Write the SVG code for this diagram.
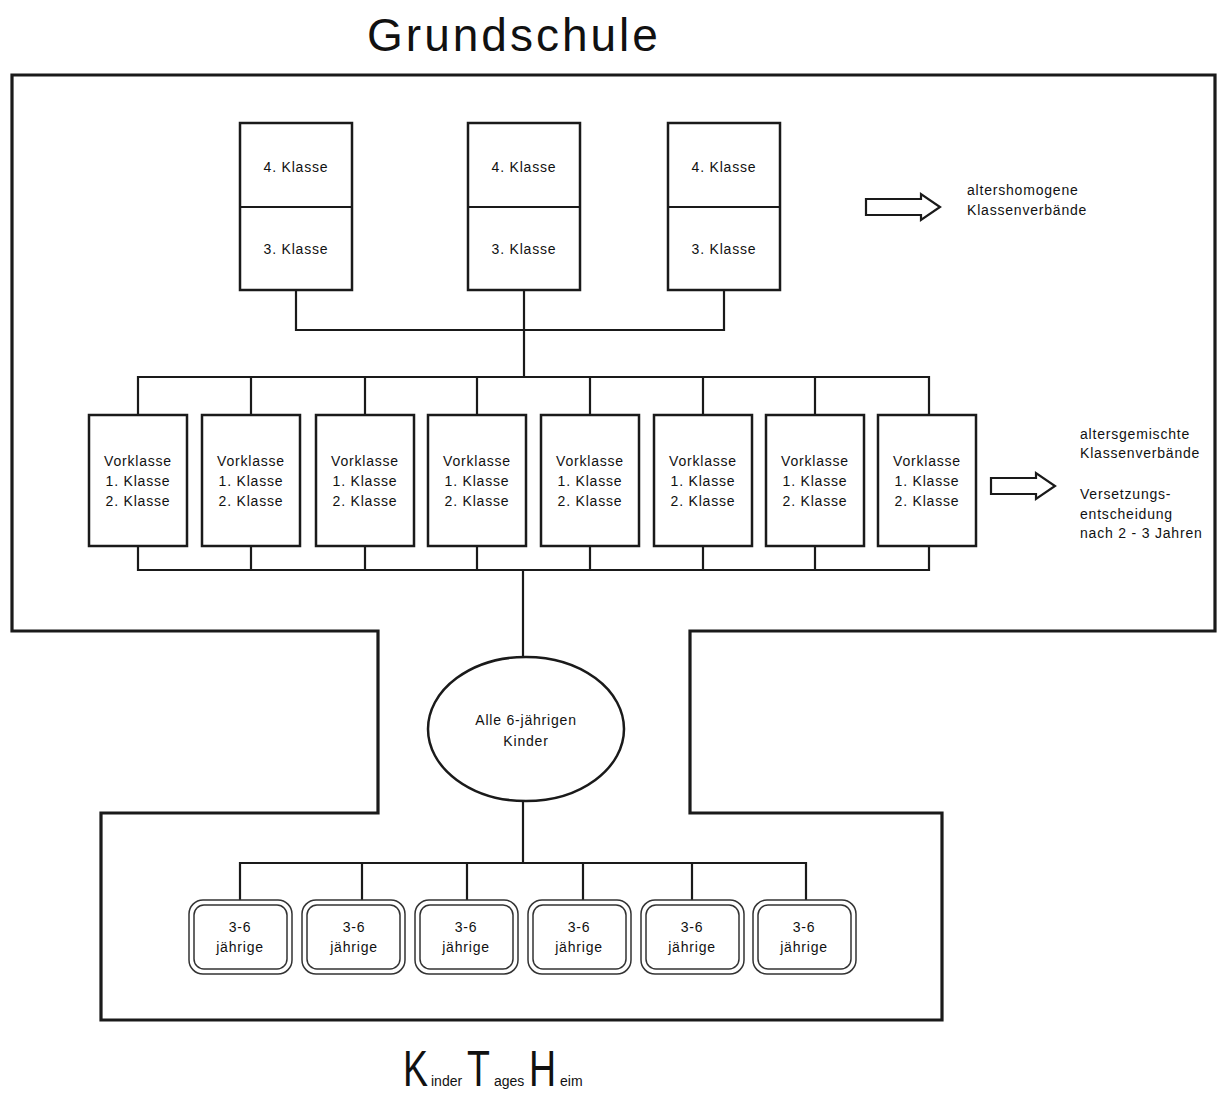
<svg xmlns="http://www.w3.org/2000/svg" width="1217" height="1097" viewBox="0 0 1217 1097">
<style>
  text { font-family: "Liberation Sans", Arial, sans-serif; fill: #111; }
  .t { font-size: 14px; text-anchor: middle; letter-spacing: 0.8px; }
  .side { font-size: 14px; letter-spacing: 0.8px; }
  .box { fill: #fff; stroke: #1a1a1a; stroke-width: 2.5; }
  .frame { fill: none; stroke: #1a1a1a; stroke-width: 3.2; stroke-linejoin: miter; }
  .con { fill: none; stroke: #1a1a1a; stroke-width: 2.2; }
  .rr { fill: #fff; stroke: #333; stroke-width: 1.5; }
  .arrow { fill: #fff; stroke: #1a1a1a; stroke-width: 2.2; stroke-linejoin: miter; }
  .title { font-size: 46px; text-anchor: middle; letter-spacing: 3px; }
  .big { font-size: 50px; }
  .small { font-size: 14px; }
</style>

<!-- Titles -->
<text class="title" x="514" y="51">Grundschule</text>

<!-- Frame -->
<path id="frame" class="frame" d="M12,75 H1215 V631 H690 V813 H942 V1020 H101 V813 H378 V631 H12 Z"/>

<!-- Connectors -->
<g id="connectors" class="con">
  <path d="M296,290 V330 H724 V290"/>
  <path d="M524,290 V377"/>
  <path d="M138,415 V377 H929 V415"/>
  <path d="M251,377 V415 M365,377 V415 M477,377 V415 M590,377 V415 M703,377 V415 M815,377 V415"/>
  <path d="M138,546 V570 H929 V546"/>
  <path d="M251,546 V570 M365,546 V570 M477,546 V570 M590,546 V570 M703,546 V570 M815,546 V570"/>
  <path d="M523,570 V657"/>
  <path d="M523,801 V863"/>
  <path d="M240,900 V863 H806 V900"/>
  <path d="M362,863 V900 M467,863 V900 M583,863 V900 M692,863 V900"/>
</g>

<!-- Top class boxes -->
<g id="top1">
  <rect class="box" x="240" y="123" width="112" height="167"/>
  <line class="con" x1="240" y1="207" x2="352" y2="207"/>
  <text class="t" x="296" y="172">4. Klasse</text>
  <text class="t" x="296" y="254">3. Klasse</text>
</g>
<g id="top2">
  <rect class="box" x="468" y="123" width="112" height="167"/>
  <line class="con" x1="468" y1="207" x2="580" y2="207"/>
  <text class="t" x="524" y="172">4. Klasse</text>
  <text class="t" x="524" y="254">3. Klasse</text>
</g>
<g id="top3">
  <rect class="box" x="668" y="123" width="112" height="167"/>
  <line class="con" x1="668" y1="207" x2="780" y2="207"/>
  <text class="t" x="724" y="172">4. Klasse</text>
  <text class="t" x="724" y="254">3. Klasse</text>
</g>

<!-- Arrow 1 + label -->
<g id="note1">
  <path class="arrow" d="M866,199 H921 V194 L940,207 L921,220 V215 H866 Z"/>
  <text class="side" x="967" y="195">altershomogene</text>
  <text class="side" x="967" y="215">Klassenverbände</text>
</g>

<!-- Vorklasse boxes -->
<g id="v1"><rect class="box" x="89" y="415" width="98" height="131"/>
  <text class="t" x="138" y="466">Vorklasse</text><text class="t" x="138" y="486">1. Klasse</text><text class="t" x="138" y="506">2. Klasse</text></g>
<g id="v2"><rect class="box" x="202" y="415" width="98" height="131"/>
  <text class="t" x="251" y="466">Vorklasse</text><text class="t" x="251" y="486">1. Klasse</text><text class="t" x="251" y="506">2. Klasse</text></g>
<g id="v3"><rect class="box" x="316" y="415" width="98" height="131"/>
  <text class="t" x="365" y="466">Vorklasse</text><text class="t" x="365" y="486">1. Klasse</text><text class="t" x="365" y="506">2. Klasse</text></g>
<g id="v4"><rect class="box" x="428" y="415" width="98" height="131"/>
  <text class="t" x="477" y="466">Vorklasse</text><text class="t" x="477" y="486">1. Klasse</text><text class="t" x="477" y="506">2. Klasse</text></g>
<g id="v5"><rect class="box" x="541" y="415" width="98" height="131"/>
  <text class="t" x="590" y="466">Vorklasse</text><text class="t" x="590" y="486">1. Klasse</text><text class="t" x="590" y="506">2. Klasse</text></g>
<g id="v6"><rect class="box" x="654" y="415" width="98" height="131"/>
  <text class="t" x="703" y="466">Vorklasse</text><text class="t" x="703" y="486">1. Klasse</text><text class="t" x="703" y="506">2. Klasse</text></g>
<g id="v7"><rect class="box" x="766" y="415" width="98" height="131"/>
  <text class="t" x="815" y="466">Vorklasse</text><text class="t" x="815" y="486">1. Klasse</text><text class="t" x="815" y="506">2. Klasse</text></g>
<g id="v8"><rect class="box" x="878" y="415" width="98" height="131"/>
  <text class="t" x="927" y="466">Vorklasse</text><text class="t" x="927" y="486">1. Klasse</text><text class="t" x="927" y="506">2. Klasse</text></g>

<!-- Arrow 2 + label -->
<g id="note2">
  <path class="arrow" d="M991,478 H1036 V473 L1055,486 L1036,499 V494 H991 Z"/>
  <text class="side" x="1080" y="439">altersgemischte</text>
  <text class="side" x="1080" y="458">Klassenverbände</text>
  <text class="side" x="1080" y="499">Versetzungs-</text>
  <text class="side" x="1080" y="519">entscheidung</text>
  <text class="side" x="1080" y="538">nach 2 - 3 Jahren</text>
</g>

<!-- Ellipse -->
<g id="alle">
  <ellipse class="box" cx="526" cy="729" rx="98" ry="72"/>
  <text class="t" x="526" y="725">Alle 6-jährigen</text>
  <text class="t" x="526" y="746">Kinder</text>
</g>

<!-- Kindergarten groups -->
<g id="k1"><rect class="rr" x="189" y="900" width="103" height="74" rx="14"/><rect class="rr" x="194" y="905" width="93" height="64" rx="10"/>
  <text class="t" x="240" y="932">3-6</text><text class="t" x="240" y="952">jährige</text></g>
<g id="k2"><rect class="rr" x="302" y="900" width="103" height="74" rx="14"/><rect class="rr" x="307" y="905" width="93" height="64" rx="10"/>
  <text class="t" x="354" y="932">3-6</text><text class="t" x="354" y="952">jährige</text></g>
<g id="k3"><rect class="rr" x="415" y="900" width="103" height="74" rx="14"/><rect class="rr" x="420" y="905" width="93" height="64" rx="10"/>
  <text class="t" x="466" y="932">3-6</text><text class="t" x="466" y="952">jährige</text></g>
<g id="k4"><rect class="rr" x="528" y="900" width="103" height="74" rx="14"/><rect class="rr" x="533" y="905" width="93" height="64" rx="10"/>
  <text class="t" x="579" y="932">3-6</text><text class="t" x="579" y="952">jährige</text></g>
<g id="k5"><rect class="rr" x="641" y="900" width="103" height="74" rx="14"/><rect class="rr" x="646" y="905" width="93" height="64" rx="10"/>
  <text class="t" x="692" y="932">3-6</text><text class="t" x="692" y="952">jährige</text></g>
<g id="k6"><rect class="rr" x="753" y="900" width="103" height="74" rx="14"/><rect class="rr" x="758" y="905" width="93" height="64" rx="10"/>
  <text class="t" x="804" y="932">3-6</text><text class="t" x="804" y="952">jährige</text></g>

<!-- Bottom title: KinderTagesHeim -->
<g id="kth">
  <text class="big" transform="translate(403,1086) scale(0.75,1)">K</text>
  <text class="small" x="431" y="1086">inder</text>
  <text class="big" transform="translate(467,1086) scale(0.75,1)">T</text>
  <text class="small" x="494" y="1086">ages</text>
  <text class="big" transform="translate(529,1086) scale(0.75,1)">H</text>
  <text class="small" x="560" y="1086">eim</text>
</g>
</svg>
